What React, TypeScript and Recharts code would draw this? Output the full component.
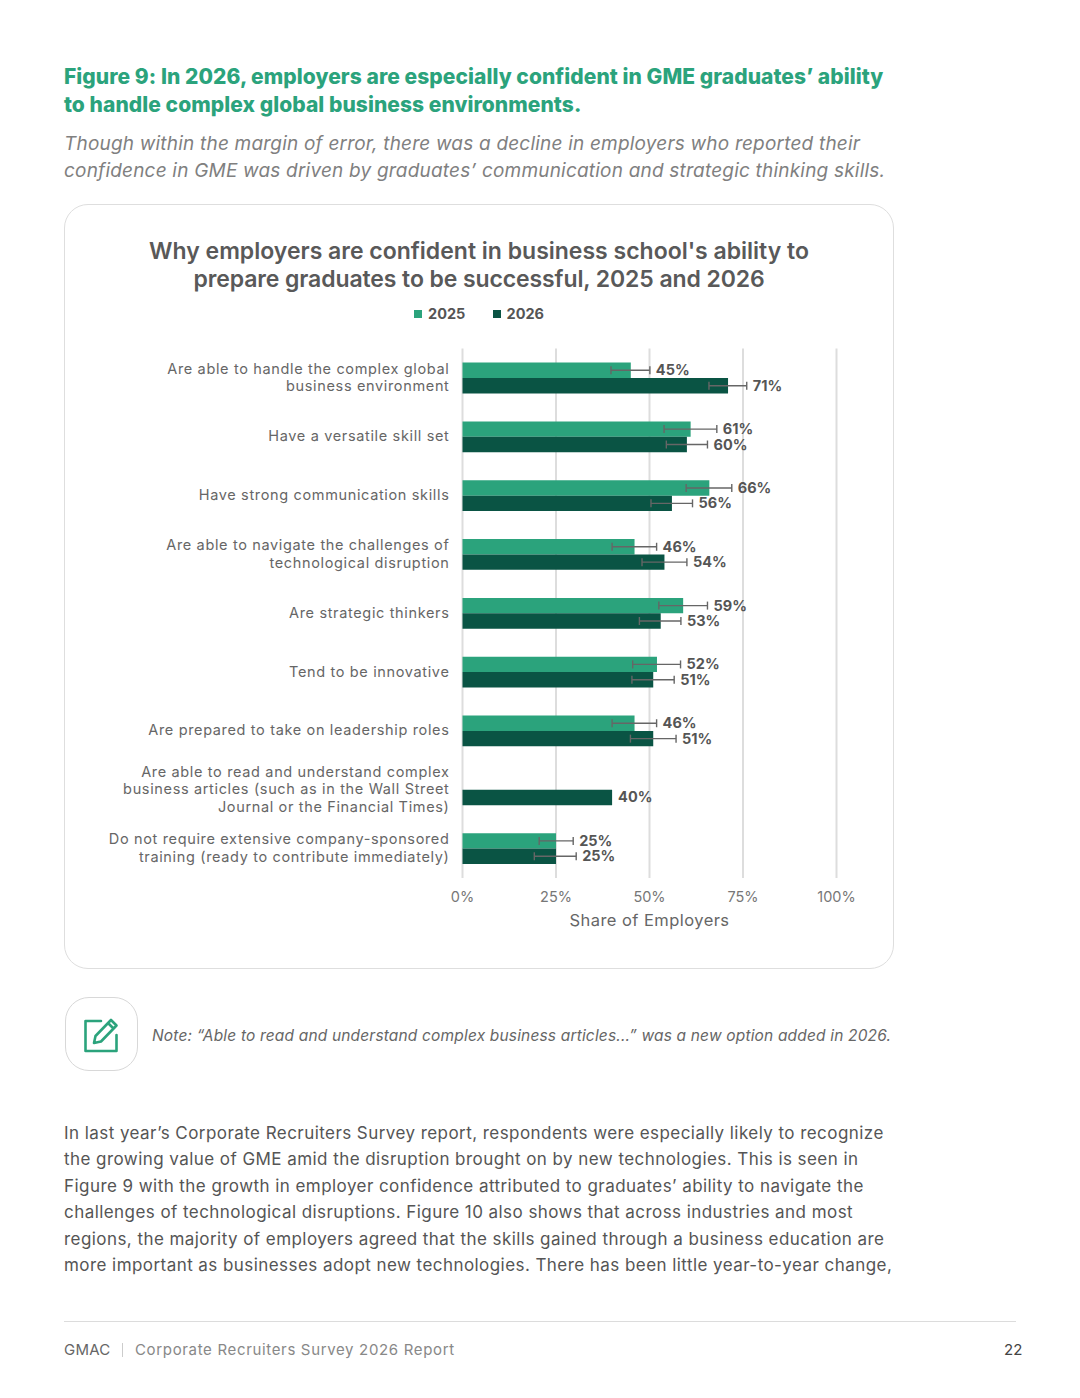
import React from 'react';
import {
  BarChart,
  Bar,
  XAxis,
  YAxis,
  CartesianGrid,
  Legend,
  ErrorBar,
  LabelList
} from 'recharts';

const FONT = 'Inter, sans-serif';
const GREEN = '#2BA37C';
const DARK = '#0A5444';

const categories = [
  'Are able to handle the complex global\nbusiness environment',
  'Have a versatile skill set',
  'Have strong communication skills',
  'Are able to navigate the challenges of\ntechnological disruption',
  'Are strategic thinkers',
  'Tend to be innovative',
  'Are prepared to take on leadership roles',
  'Are able to read and understand complex\nbusiness articles (such as in the Wall Street\nJournal or the Financial Times)',
  'Do not require extensive company-sponsored\ntraining (ready to contribute immediately)'
];

const values2025 = [45, 61, 66, 46, 59, 52, 46, null, 25];
const values2026 = [71, 60, 56, 54, 53, 51, 51, 40, 25];

// [minus, plus] around each value
const errors2025 = [[5.3, 5.1], [7.1, 7], [6.2, 6], [6, 5.9], [6.5, 6.5], [6.5, 6.3], [6, 5.9], null, [4.5, 4.6]];
const errors2026 = [[5.1, 5], [5.5, 5.5], [5.6, 5.5], [6, 6], [5.7, 5.4], [5.7, 5.6], [6.1, 6.1], null, [5.8, 5.4]];

const xTicks = [0, 25, 50, 75, 100];

const data = categories.map((category, i) => ({
  category,
  v2025: values2025[i],
  v2026: values2026[i],
  e2025: errors2025[i],
  e2026: errors2026[i]
}));

const headingLines = [
  'Figure 9: In 2026, employers are especially confident in GME graduates’ ability',
  'to handle complex global business environments.'
];
const subLines = [
  'Though within the margin of error, there was a decline in employers who reported their',
  'confidence in GME was driven by graduates’ communication and strategic thinking skills.'
];
const bodyLines = [
  'In last year’s Corporate Recruiters Survey report, respondents were especially likely to recognize',
  'the growing value of GME amid the disruption brought on by new technologies. This is seen in',
  'Figure 9 with the growth in employer confidence attributed to graduates’ ability to navigate the',
  'challenges of technological disruptions. Figure 10 also shows that across industries and most',
  'regions, the majority of employers agreed that the skills gained through a business education are',
  'more important as businesses adopt new technologies. There has been little year-to-year change,'
];

const Line = ({ x, y, children, style }: any) => (
  <div
    style={{
      position: 'absolute',
      left: x,
      top: y - 15,
      height: 30,
      lineHeight: '30px',
      whiteSpace: 'nowrap',
      fontFamily: FONT,
      ...style
    }}
  >
    {children}
  </div>
);

const CategoryTick = ({ x, y, payload }: any) => {
  const lines = String(payload.value).split('\n');
  const start = y - ((lines.length - 1) * 17.5) / 2;
  return (
    <text textAnchor="end" fontFamily={FONT} fontSize={14.5} fill="#666" letterSpacing={0.65}>
      {lines.map((l, i) => (
        <tspan key={i} x={x} y={start + i * 17.5} dy={4.5}>
          {l}
        </tspan>
      ))}
    </text>
  );
};

// LabelList skips rows with no value, so its index only counts the rows that have one
const makeValueLabel = (values: any[], errors: any[]) => {
  const drawn = errors.filter((_, i) => values[i] != null);
  return (props: any) => {
    const { x, y, width, height, value, index } = props;
    if (value == null) return null;
    const err = drawn[index];
    const plus = err ? (err[1] / value) * width : 0;
    return (
      <text
        x={x + width + plus + 6}
        y={y + height / 2 + 5}
        fontFamily={FONT}
        fontSize={14.5}
        fontWeight={700}
        fill="#555"
      >
        {value}%
      </text>
    );
  };
};

const LegendContent = ({ payload }: any) => (
  <div style={{ display: 'flex', fontFamily: FONT, fontSize: 14.5, fontWeight: 700, color: '#555' }}>
    {(payload || []).map((p: any) => (
      <div key={p.value} style={{ display: 'flex', alignItems: 'center', width: 78.5 }}>
        <span style={{ width: 8, height: 8, background: p.color, marginRight: 6 }} />
        {p.value}
      </div>
    ))}
  </div>
);

export default function App() {
  return (
    <div style={{ position: 'absolute', left: 0, top: 0, width: 1080, height: 1398, background: '#fff', overflow: 'hidden' }}>
      {headingLines.map((t, i) => (
        <Line key={t} x={64} y={77 + i * 28} style={{ fontSize: 21, fontWeight: 800, color: GREEN, letterSpacing: 0.06 }}>
          {t}
        </Line>
      ))}
      {subLines.map((t, i) => (
        <Line key={t} x={64} y={144 + i * 27} style={{ fontSize: 19, fontStyle: 'italic', color: '#808080', letterSpacing: 0.2 }}>
          {t}
        </Line>
      ))}

      <div
        style={{
          position: 'absolute',
          left: 64,
          top: 204,
          width: 830,
          height: 765,
          boxSizing: 'border-box',
          border: '1px solid #dedede',
          borderRadius: 24
        }}
      />
      <Line x={64} y={251} style={{ width: 830, textAlign: 'center', fontSize: 23, fontWeight: 600, color: '#595959' }}>
        Why employers are confident in business school's ability to
      </Line>
      <Line x={64} y={279} style={{ width: 830, textAlign: 'center', fontSize: 23, fontWeight: 600, color: '#595959', letterSpacing: -0.1 }}>
        prepare graduates to be successful, 2025 and 2026
      </Line>

      <div style={{ position: 'absolute', left: 64, top: 204 }}>
        <BarChart
          width={830}
          height={765}
          data={data}
          layout="vertical"
          barSize={15.4}
          barGap={0}
          margin={{ top: 144.6, right: 57.5, bottom: 31, left: 0 }}
        >
          <CartesianGrid horizontal={false} stroke="#dddddd" strokeWidth={2} />
          <XAxis
            type="number"
            domain={[0, 100]}
            ticks={xTicks}
            tickFormatter={(v) => `${v}%`}
            axisLine={false}
            tickLine={false}
            height={60}
            tickMargin={8}
            tick={{ fontFamily: FONT, fontSize: 14.5, fill: '#777' }}
            label={{
              value: 'Share of Employers',
              position: 'insideBottom',
              offset: 12,
              style: { fontFamily: FONT, fontSize: 16.5, fill: '#666', letterSpacing: 0.45 }
            }}
          />
          <YAxis
            type="category"
            dataKey="category"
            width={398.5}
            axisLine={false}
            tickLine={false}
            tickSize={0}
            tickMargin={13}
            interval={0}
            tick={<CategoryTick />}
          />
          <Legend
            layout="horizontal"
            align="center"
            verticalAlign="middle"
            content={<LegendContent />}
            wrapperStyle={{ top: 101, left: 350, width: 200 }}
          />
          <Bar dataKey="v2025" name="2025" fill={GREEN} isAnimationActive={false}>
            <ErrorBar dataKey="e2025" direction="x" width={4} stroke="#666" strokeWidth={1.4} isAnimationActive={false} />
            <LabelList dataKey="v2025" content={makeValueLabel(values2025, errors2025)} />
          </Bar>
          <Bar dataKey="v2026" name="2026" fill={DARK} isAnimationActive={false}>
            <ErrorBar dataKey="e2026" direction="x" width={4} stroke="#666" strokeWidth={1.4} isAnimationActive={false} />
            <LabelList dataKey="v2026" content={makeValueLabel(values2026, errors2026)} />
          </Bar>
        </BarChart>
      </div>

      <div
        style={{
          position: 'absolute',
          left: 65,
          top: 997,
          width: 73,
          height: 74,
          boxSizing: 'border-box',
          border: '1px solid #d8d8d8',
          borderRadius: 24
        }}
      />
      <svg style={{ position: 'absolute', left: 80, top: 1012 }} width={44} height={44} viewBox="0 0 44 44" fill="none" stroke={GREEN} strokeWidth={2.6}>
        <path d="M21 9 H5.5 V39 H36.5 V23" strokeLinejoin="round" strokeLinecap="round" />
        <path d="M14 31 L15.5 24 L31 8 L36.5 13.5 L21 29.5 Z M28 11 L33.5 16.5" strokeLinejoin="round" />
      </svg>
      <Line x={152} y={1036} style={{ fontSize: 15.5, fontStyle: 'italic', color: '#666', letterSpacing: 0.17 }}>
        Note: “Able to read and understand complex business articles...” was a new option added in 2026.
      </Line>

      {bodyLines.map((t, i) => (
        <Line key={t} x={64} y={1132.5 + i * 26.5} style={{ fontSize: 17, color: '#555', letterSpacing: 0.44 }}>
          {t}
        </Line>
      ))}

      <div style={{ position: 'absolute', left: 64, top: 1321, width: 952, height: 1, background: '#dcdcdc' }} />
      <Line x={64} y={1349.5} style={{ fontSize: 15, color: '#666', letterSpacing: 0.2 }}>GMAC</Line>
      <div style={{ position: 'absolute', left: 122, top: 1343, width: 1, height: 14, background: '#ccc' }} />
      <Line x={135} y={1349.5} style={{ fontSize: 15, color: '#888', letterSpacing: 0.66 }}>
        Corporate Recruiters Survey 2026 Report
      </Line>
      <Line x={1004} y={1349.5} style={{ fontSize: 15, color: '#444' }}>22</Line>
    </div>
  );
}
